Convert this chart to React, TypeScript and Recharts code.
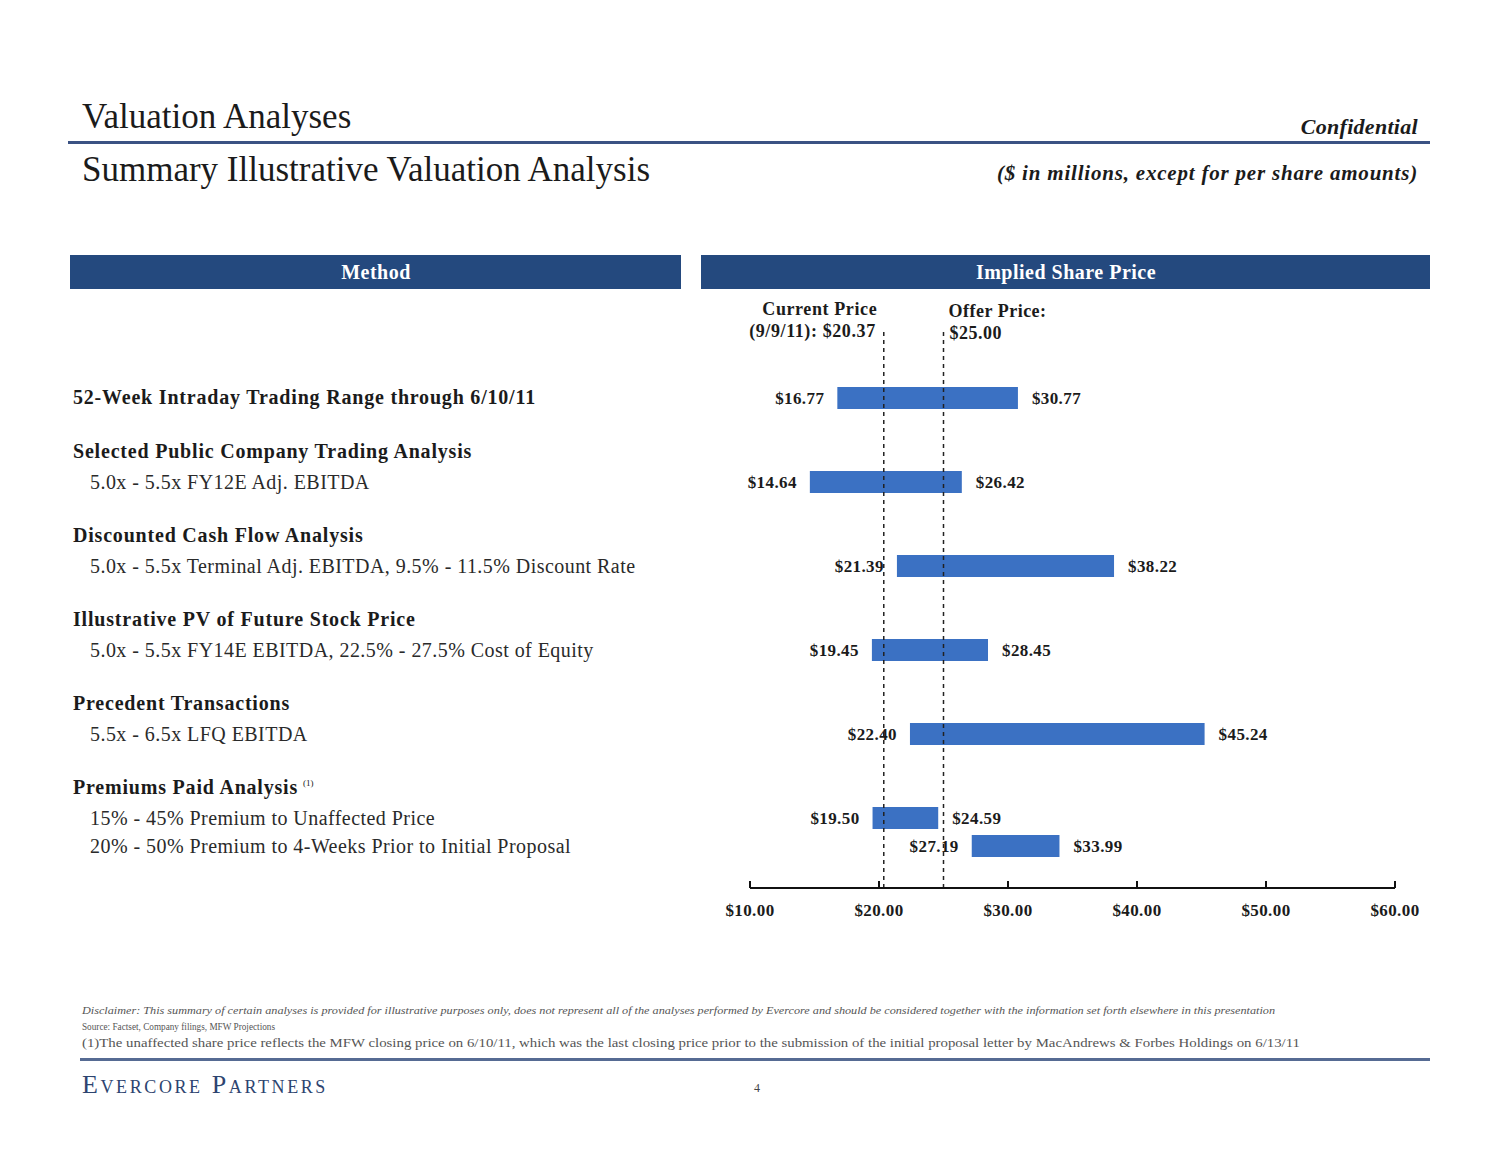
import React from "react";
import { BarChart, Bar, XAxis, YAxis, ReferenceLine, LabelList } from "recharts";

// valuation methods, top to bottom
const methodTitles = [
  "52-Week Intraday Trading Range through 6/10/11",
  "Selected Public Company Trading Analysis",
  "Discounted Cash Flow Analysis",
  "Illustrative PV of Future Stock Price",
  "Precedent Transactions",
  "Premiums Paid Analysis",
  "",
];
const methodNotes = ["", "", "", "", "", "(1)", ""];
const methodDetails = [
  "",
  "5.0x - 5.5x FY12E Adj. EBITDA",
  "5.0x - 5.5x Terminal Adj. EBITDA, 9.5% - 11.5% Discount Rate",
  "5.0x - 5.5x FY14E EBITDA, 22.5% - 27.5% Cost of Equity",
  "5.5x - 6.5x LFQ EBITDA",
  "15% - 45% Premium to Unaffected Price",
  "20% - 50% Premium to 4-Weeks Prior to Initial Proposal",
];
const lowPrices = [16.77, 14.64, 21.39, 19.45, 22.4, 19.5, 27.19];
const highPrices = [30.77, 26.42, 38.22, 28.45, 45.24, 24.59, 33.99];

const priceTicks = [10, 20, 30, 40, 50, 60];
const currentPrice = 20.37;
const offerPrice = 25.0;

// layout: which 28px slot each method sits in
const ROW_SLOTS = [2, 5, 8, 11, 14, 17, 18];
const SLOT_COUNT = 20;

const rows = Array.from({ length: SLOT_COUNT }, (_, slot) => {
  const i = ROW_SLOTS.indexOf(slot);
  return {
    key: `slot${slot}`,
    method: i,
    range: i < 0 ? null : [lowPrices[i], highPrices[i]],
  };
});

const SERIF = '"Liberation Serif", "DejaVu Serif", serif';
const INK = "#1b1b1b";
const BAR_BLUE = "#3b71c3";
const NAVY = "#24497e";

const fmt = (v: number) => `$${v.toFixed(2)}`;

function MethodTick(props: any) {
  const { y, payload } = props;
  const row = rows.find((r) => r.key === payload.value);
  if (!row || row.method < 0) return null;
  const i = row.method;
  const title = methodTitles[i];
  const detail = methodDetails[i];
  return (
    <g fontFamily={SERIF} fill={INK}>
      {title && (
        <text
          x={73}
          y={detail ? y - 24 : y + 6}
          fontSize={20}
          fontWeight="bold"
          letterSpacing={0.8}
        >
          {title}
          {methodNotes[i] && (
            <tspan dx={5} dy={-8} fontSize={9} fontWeight="normal" letterSpacing={0}>
              {methodNotes[i]}
            </tspan>
          )}
        </text>
      )}
      {detail && (
        <text x={90} y={y + 7} fontSize={20} fill="#2a2a2a" letterSpacing={0.45}>
          {detail}
        </text>
      )}
    </g>
  );
}

function PriceTick(props: any) {
  const { x, y, payload } = props;
  return (
    <g>
      <line x1={x} x2={x} y1={y - 7} y2={y} stroke="#111" strokeWidth={2} />
      <text
        x={x}
        y={y + 28}
        textAnchor="middle"
        fontFamily={SERIF}
        fontSize={17}
        fontWeight="bold"
        letterSpacing={0.4}
        fill={INK}
      >
        {fmt(payload.value)}
      </text>
    </g>
  );
}

function RangeLabel(props: any) {
  const v = props.value;
  if (!Array.isArray(v)) return null;
  const vb = props.viewBox ?? props;
  const { x, y, width, height } = vb;
  if (![x, y, width, height].every((n) => Number.isFinite(n))) return null;
  const cy = y + height / 2 + 6;
  return (
    <g fontFamily={SERIF} fontSize={17} fontWeight="bold" fill={INK} letterSpacing={0.4}>
      <text x={x - 13} y={cy} textAnchor="end">
        {fmt(v[0])}
      </text>
      <text x={x + width + 14} y={cy} textAnchor="start">
        {fmt(v[1])}
      </text>
    </g>
  );
}

function CurrentLabel(props: any) {
  const { x, y } = props.viewBox;
  return (
    <g fontFamily={SERIF} fontSize={18} fontWeight="bold" fill={INK} letterSpacing={0.6}>
      <text x={x - 64} y={y - 13} textAnchor="middle">
        Current Price
      </text>
      <text x={x - 8} y={y + 9} textAnchor="end">
        {`(9/9/11): ${fmt(currentPrice)}`}
      </text>
    </g>
  );
}

function OfferLabel(props: any) {
  const { x, y } = props.viewBox;
  return (
    <g fontFamily={SERIF} fontSize={18} fontWeight="bold" fill={INK} letterSpacing={0.5}>
      <text x={x + 5} y={y - 11} textAnchor="start">
        Offer Price:
      </text>
      <text x={x + 6} y={y + 11} textAnchor="start">
        {fmt(offerPrice)}
      </text>
    </g>
  );
}

function PageFrame() {
  return (
    <svg width={1500} height={1159} style={{ position: "absolute", left: 0, top: 0 }}>
      <rect x={0} y={0} width={1500} height={1159} fill="#fff" />
      <g fontFamily={SERIF} fill={INK}>
        <text x={82} y={128} fontSize={35}>
          Valuation Analyses
        </text>
        <rect x={68} y={141} width={1362} height={3} fill="#3b5283" />
        <text x={82} y={181} fontSize={35}>
          Summary Illustrative Valuation Analysis
        </text>
        <text
          x={1418}
          y={134}
          fontSize={22}
          fontStyle="italic"
          fontWeight="bold"
          letterSpacing={0.3}
          textAnchor="end"
        >
          Confidential
        </text>
        <text
          x={1418}
          y={180}
          fontSize={21}
          fontStyle="italic"
          fontWeight="bold"
          letterSpacing={0.8}
          textAnchor="end"
        >
          ($ in millions, except for per share amounts)
        </text>
      </g>

      <rect x={70} y={255} width={611} height={34} fill={NAVY} />
      <rect x={701} y={255} width={729} height={34} fill={NAVY} />
      <g
        fontFamily={SERIF}
        fontSize={20}
        fontWeight="bold"
        fill="#fff"
        textAnchor="middle"
        letterSpacing={0.5}
      >
        <text x={376} y={279}>
          Method
        </text>
        <text x={1066} y={279}>
          Implied Share Price
        </text>
      </g>

      <g fontFamily={SERIF} fill="#555">
        <text
          x={82}
          y={1014}
          fontSize={11}
          fontStyle="italic"
          textLength={1193}
          lengthAdjust="spacingAndGlyphs"
        >
          Disclaimer: This summary of certain analyses is provided for illustrative purposes only, does not represent all of the analyses performed by Evercore and should be considered together with the information set forth elsewhere in this presentation
        </text>
        <text x={82} y={1030} fontSize={11} textLength={193} lengthAdjust="spacingAndGlyphs">
          Source: Factset, Company filings, MFW Projections
        </text>
        <text x={82} y={1047} fontSize={12} textLength={1218} lengthAdjust="spacingAndGlyphs">
          (1)The unaffected share price reflects the MFW closing price on 6/10/11, which was the last closing price prior to the submission of the initial proposal letter by MacAndrews &amp; Forbes Holdings on 6/13/11
        </text>
      </g>
      <rect x={80} y={1058} width={1350} height={3} fill="#566b93" />
      <text
        x={82}
        y={1093}
        fontFamily={SERIF}
        fontSize={26}
        fill="#2d4470"
        letterSpacing={2.6}
        style={{ fontVariant: "small-caps" }}
      >
        Evercore Partners
      </text>
      <text x={757} y={1092} fontFamily={SERIF} fontSize={12} fill="#444" textAnchor="middle">
        4
      </text>
    </svg>
  );
}

export default function App() {
  return (
    <div style={{ position: "absolute", left: 0, top: 0, width: 1500, height: 1159, overflow: "hidden" }}>
      <PageFrame />
      <div style={{ position: "absolute", left: 0, top: 0 }}>
        <BarChart
          width={1500}
          height={1159}
          data={rows}
          layout="vertical"
          margin={{ top: 328, right: 105, bottom: 231, left: 0 }}
        >
          <XAxis
            type="number"
            domain={[10, 60]}
            ticks={priceTicks}
            height={40}
            axisLine={{ stroke: "#111", strokeWidth: 2 }}
            tickLine={false}
            tickSize={0}
            tickMargin={0}
            tick={<PriceTick />}
          />
          <YAxis
            type="category"
            dataKey="key"
            width={750}
            interval={0}
            axisLine={false}
            tickLine={false}
            tick={<MethodTick />}
          />
          <Bar dataKey="range" barSize={22} fill={BAR_BLUE} isAnimationActive={false}>
            <LabelList dataKey="range" content={<RangeLabel />} />
          </Bar>
          <ReferenceLine
            x={currentPrice}
            stroke="#222"
            strokeWidth={1.5}
            strokeDasharray="4 4"
            label={<CurrentLabel />}
          />
          <ReferenceLine
            x={offerPrice}
            stroke="#222"
            strokeWidth={1.5}
            strokeDasharray="4 4"
            label={<OfferLabel />}
          />
        </BarChart>
      </div>
    </div>
  );
}
